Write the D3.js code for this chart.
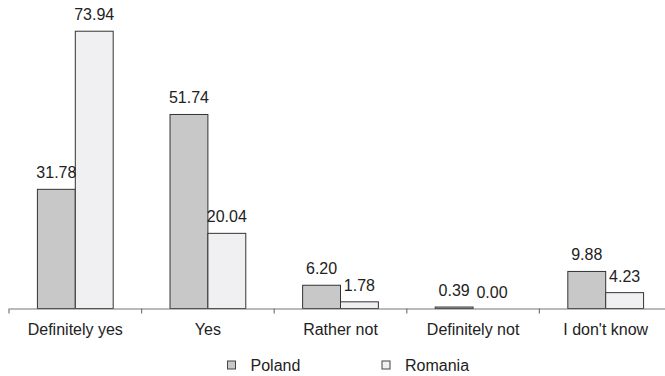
<!DOCTYPE html>
<html><head><meta charset="utf-8">
<script src="https://cdn.jsdelivr.net/npm/d3@7"></script>
<style>body{margin:0;background:#fff;} svg{display:block;} text{font-family:"Liberation Sans",Arial,sans-serif;fill:#222;}</style>
</head><body>
<svg id="c" width="665" height="376"></svg>
<script>
const categories = ["Definitely yes","Yes","Rather not","Definitely not","I don't know"];
const seriesNames = ["Poland","Romania"];
const poland = [31.78, 51.74, 6.20, 0.39, 9.88];
const romania = [73.94, 20.04, 1.78, 0.00, 4.23];
const colors = ["#c8c8c9","#f0f0f2"];

const svg = d3.select("#c");
const baseY = 308.5;
const x0 = d3.scaleBand().domain(categories).range([9, 672]).padding(0);
const x1 = d3.scaleBand().domain(seriesNames).range([0, x0.bandwidth()]).paddingInner(0).paddingOuter(0.75);
const y = d3.scaleLinear().domain([0, 80]).range([baseY, baseY - 80*3.75]);

const data = categories.map((c,i)=>({cat:c, vals:[{s:"Poland",v:poland[i]},{s:"Romania",v:romania[i]}]}));

const g = svg.selectAll("g.grp").data(data).join("g").attr("transform", d=>`translate(${x0(d.cat)},0)`);
g.selectAll("rect").data(d=>d.vals).join("rect")
  .attr("x", d=>x1(d.s)).attr("width", x1.bandwidth())
  .attr("y", d=>y(d.v)).attr("height", d=>y(0)-y(d.v))
  .attr("fill", (d,i)=>colors[i]).attr("stroke","#333").attr("stroke-width",1);
g.selectAll("text").data(d=>d.vals).join("text")
  .attr("x", d=>x1(d.s)+x1.bandwidth()/2).attr("y", d=>y(d.v)-11)
  .attr("text-anchor","middle").attr("font-size",16).text(d=>d.v.toFixed(2));

// axis
const axis = d3.axisBottom(x0).tickSize(0).tickSizeOuter(0);
const ax = svg.append("g").attr("transform",`translate(0,${baseY})`).call(axis);
ax.select(".domain").attr("stroke","#777").attr("stroke-width",1.2);
ax.selectAll(".tick text").attr("font-size",16).attr("dy",0).attr("y",26.5).style("font-family","Liberation Sans, Arial, sans-serif").attr("fill","#222");
svg.append("g").selectAll("line").data(categories).join("line")
  .attr("x1",d=>x0(d)).attr("x2",d=>x0(d)).attr("y1",baseY).attr("y2",baseY+5)
  .attr("stroke","#777").attr("stroke-width",1.2);

// legend
const legX = [227.5, 382];
const lg = svg.selectAll("g.leg").data(seriesNames).join("g").attr("transform",(d,i)=>`translate(${legX[i]},361)`);
lg.append("rect").attr("width",8).attr("height",8).attr("fill",(d,i)=>colors[i]).attr("stroke","#444").attr("stroke-width",1);
lg.append("text").attr("x",23).attr("y",10).attr("font-size",16).text(d=>d);
</script>
</body></html>
